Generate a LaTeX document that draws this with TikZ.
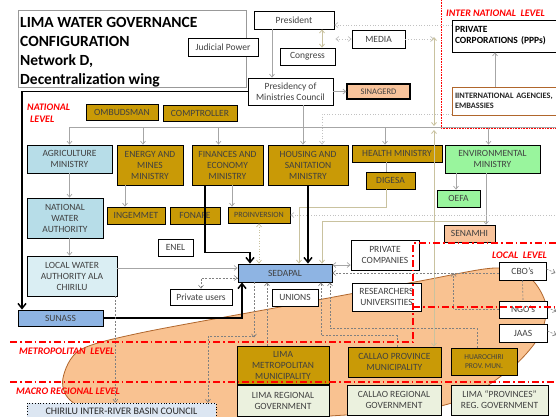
\documentclass[tikz,border=0pt]{standalone}
\usepackage{fontspec}
\setmainfont{Carlito}
\usetikzlibrary{arrows.meta,positioning,calc}
\definecolor{ink}{HTML}{404040}
\definecolor{gold}{HTML}{C99A06}
\definecolor{sky}{HTML}{B7DDE8}
\definecolor{pale}{HTML}{DAEEF3}
\definecolor{steel}{HTML}{8EB4E3}
\definecolor{mint}{HTML}{99F59D}
\definecolor{peach}{HTML}{F8C39B}
\definecolor{cream}{HTML}{EBF1DE}
\definecolor{chfill}{HTML}{DCE6F2}
\definecolor{blob}{HTML}{F9C291}
\definecolor{rust}{HTML}{B0662C}
\definecolor{khaki}{HTML}{C9C29F}
\definecolor{lvlred}{HTML}{FF0000}
\colorlet{lgray}{black!35}

\begin{document}
\begin{tikzpicture}[x=1pt,y=-1pt,>={Straight Barb[length=3pt,width=5pt]},
  sz/.style 2 args={minimum width=#1pt,minimum height=#2pt},
  bx/.style={draw=black,line width=0.8pt,fill=white,align=center,inner sep=1pt,
             text=ink,font=\fontsize{9.5}{11}\selectfont},
  gd/.style={bx,fill=gold},
  lvl/.style={text=lvlred,font=\bfseries\itshape\fontsize{10}{12}\selectfont,align=left,inner sep=0},
  lk/.style={draw=lgray,line width=0.7pt},
  bg/.style={draw=khaki,line width=0.8pt},
  dt/.style={draw=lgray!70,line width=0.7pt,dotted},
  dk/.style={draw=black!50,line width=0.6pt,dash pattern=on 2pt off 1.5pt},
  tk/.style={line width=1.5pt,-{Straight Barb[length=5pt,width=8pt]}},
  redline/.style={draw=lvlred,line width=1.3pt,dash pattern=on 7pt off 3pt on 1.5pt off 3pt}]
\useasboundingbox (0,0) rectangle (556,416);
\clip (0,0) rectangle (556,416);

\filldraw[fill=blob,draw=rust,line width=0.8pt] plot[smooth cycle] coordinates {(63,378) (80,350) (140,333)
  (280,307) (420,281) (495,268) (530,278) (546,305) (540,335) (515,365) (470,396) (420,410)
  (330,416) (220,424) (110,420) (70,400)};

\node[draw=black!40,line width=0.6pt,fill=white,sz={228}{77}] (titlebox) at (132,48.5) {};
\node[anchor=north west,align=left,inner sep=0,font=\bfseries\fontsize{15.5}{19}\selectfont] (title) at (20,17)
  {LIMA WATER GOVERNANCE\\CONFIGURATION\\Network D,\\Decentralization wing};

\coordinate (busL) at (70,127);
\coordinate (busR) at (560,127);
\coordinate (vtop) at (434,37);
\coordinate (vmid) at (434,126);
\coordinate (vlow) at (434,130);
\coordinate (digbend) at (299,207);
\coordinate (envbend) at (486,221);
\coordinate (chbend) at (254,336);

\node[bx,sz={70}{18}] (judicial) at (223,47) {Judicial Power};
\node[bx,sz={80}{18}] (president) at (294,20) {President};
\node[bx,sz={55}{17}] (congress) at (307.5,56.5) {Congress};
\node[bx,sz={53}{18}] (media) at (378.5,39) {MEDIA};
\node[bx,sz={85}{27}] (presidency) at (290.5,91.5) {Presidency of\\Ministries Council};
\node[bx,fill=peach,line width=1.2pt,sz={63}{15},font=\fontsize{8.5}{9}\selectfont] (sinagerd) at (378.5,91.5) {SINAGERD};
\node[bx,sz={108}{32},text width=102pt,align=left,text=black,
  font=\bfseries\fontsize{9.5}{11}\selectfont] (privcorp) at (506,36) {PRIVATE\\CORPORATIONS (PPPs)};
\node[bx,draw=rust,sz={108}{28},text width=102pt,align=left,text=black!85,
  font=\bfseries\fontsize{8.3}{10}\selectfont] (intagency) at (506,101) {IINTERNATIONAL AGENCIES,\\EMBASSIES};

\draw[dt,->] ([yshift=11pt]privcorp.west) -- ([yshift=-5pt]president.east);
\draw[lk,->] ([xshift=-22pt]president.south) -- ([xshift=-22pt]president.south |- presidency.north);
\draw[bg,<->] ([xshift=28pt]president.south) -- ([xshift=28pt]president.south |- congress.north);
\draw[dt,<->] (media.west) -- (media.west -| congress.east);
\draw[dt,->] (media.east) -- (media.east -| vtop);
\draw[bg,<->] (vtop) -- (vmid);
\draw[lk,->] (presidency.east) -- (sinagerd.west);
\draw[lk,->] ([xshift=-11pt]intagency.north) -- ([xshift=-11pt]privcorp.south);

\node[gd,sz={72}{16}] (ombudsman) at (122,112) {OMBUDSMAN};
\node[gd,sz={74}{16}] (comptroller) at (200,113) {COMPTROLLER};
\node[bx,fill=sky,sz={85}{28}] (agri) at (69.5,159) {AGRICULTURE\\MINISTRY};
\node[gd,sz={66}{40}] (energy) at (150,165) {ENERGY AND\\MINES\\MINISTRY};
\node[gd,sz={71}{40}] (finance) at (227.5,165) {FINANCES AND\\ECONOMY\\MINISTRY};
\node[gd,sz={80}{40}] (housing) at (308,165) {HOUSING AND\\SANITATION\\MINISTRY};
\node[gd,sz={90}{17}] (health) at (397,153.5) {HEALTH MINISTRY};
\node[gd,sz={49}{17}] (digesa) at (390.5,180.5) {DIGESA};
\node[bx,fill=mint,sz={95}{28}] (envir) at (492.5,159) {ENVIRONMENTAL\\MINISTRY};
\node[bx,fill=mint,sz={43}{17}] (oefa) at (458.5,198.5) {OEFA};
\node[bx,fill=peach,sz={51}{17}] (senamhi) at (469.5,233.5) {SENAMHI};
\node[bx,fill=sky,sz={76}{40}] (nwa) at (65,218) {NATIONAL\\WATER\\AUTHORITY};
\node[gd,sz={58}{17}] (ingemmet) at (136,215.5) {INGEMMET};
\node[gd,sz={50}{17}] (fonafe) at (195,215.5) {FONAFE};
\node[gd,sz={62}{16},font=\fontsize{8}{9}\selectfont] (proinv) at (259,215) {PROINVERSION};
\node[bx,sz={35}{17}] (enel) at (175.5,247.5) {ENEL};
\node[bx,fill=pale,sz={90}{40}] (lwa) at (72,276) {LOCAL WATER\\AUTHORITY ALA\\CHIRILU};
\node[bx,fill=steel,sz={85}{16}] (sunass) at (60.5,318) {SUNASS};
\node[bx,fill=steel,sz={94}{18}] (sedapal) at (285,273) {SEDAPAL};
\node[bx,sz={62}{16}] (privusers) at (201,297) {Private users};
\node[bx,sz={46}{17}] (unions) at (295,297.5) {UNIONS};
\node[bx,sz={68}{30}] (privcomp) at (385,255) {PRIVATE\\COMPANIES};
\node[bx,sz={69}{28}] (research) at (386.5,297) {RESEARCHERS\\UNIVERSITIES};
\node[bx,sz={47}{18}] (cbo) at (522.5,271) {CBO’s};
\node[bx,sz={48}{17}] (ngo) at (523,309.5) {NGO’s};
\node[bx,sz={48}{18}] (jaas) at (523,333) {JAAS};
\node[gd,sz={92}{38}] (limamet) at (283,365) {LIMA\\METROPOLITAN\\MUNICIPALITY};
\node[gd,sz={93}{30}] (callaoprov) at (394.5,362) {CALLAO PROVINCE\\MUNICIPALITY};
\node[gd,sz={66}{27},font=\fontsize{7.5}{9.5}\selectfont] (huaro) at (484,361.5) {HUAROCHIRI\\PROV. MUN.};
\node[bx,fill=cream,sz={92}{31}] (limareg) at (283,400.5) {LIMA REGIONAL\\GOVERNMENT};
\node[bx,fill=cream,sz={94}{30}] (callaoreg) at (394,400) {CALLAO REGIONAL\\GOVERNMENT};
\node[bx,fill=cream,sz={97}{30}] (limaprov) at (499.5,400) {LIMA “PROVINCES”\\REG. GOVERNMENT};
\node[bx,fill=chfill,dotted,sz={189}{17},text=black!85,font=\fontsize{10}{12}\selectfont] (chirilu)
  at (121.5,411.5) {CHIRILU INTER-RIVER BASIN COUNCIL};

\draw[tk] (presidency.west) -| ([xshift=-38.5pt]sunass.north);
\draw[lk] (busL) -- (busR);
\draw[lk,->] ([xshift=-5pt]housing.north |- presidency.south) -- ([xshift=-5pt]housing.north);
\foreach \m/\d in {agri/0,energy/-7,finance/-9,health/-12,envir/-4}
  \draw[lk,->] ([xshift=\d pt]\m.north |- busL) -- ([xshift=\d pt]\m.north);
\draw[dt,->] ([yshift=-13pt]intagency.west) -| ([xshift=14pt]housing.north);
\draw[bg,<->] (vlow) -- (vlow |- callaoprov.north);
\draw[lk,->] (agri.south) -- (agri.south |- nwa.north);
\draw[lk,->] ([xshift=4.5pt]nwa.south) -- ([xshift=4.5pt]nwa.south |- lwa.north);
\draw[lk,->] ([xshift=-25pt]energy.south) -- ([xshift=-25pt]energy.south |- ingemmet.north);
\draw[lk,->] ([xshift=4.5pt]finance.south) -- ([xshift=4.5pt]finance.south |- proinv.north);
\draw[lk] ([xshift=-11pt]health.south) -- ([xshift=-11pt]health.south |- digesa.north);
\draw[lk,->] ([xshift=-36.5pt]envir.south) -- ([xshift=-36.5pt]envir.south |- oefa.north);
\draw[lk,->] ([xshift=-6.5pt]envir.south) -- ([xshift=-6.5pt]envir.south |- senamhi.north);
\draw[bg,->] ([xshift=-4.5pt]digesa.south) |- (digbend) -- (digbend |- sedapal.north);
\draw[bg,->] (envbend) -| ([xshift=37pt]sedapal.north);
\draw[dt,->] (proinv.east -| busR) -- (proinv.east);
\draw[dt,draw=khaki,<->] (proinv.south) -- (proinv.south |- sedapal.north);
\draw[tk] ([xshift=-22.5pt]finance.south) -- ++(0,67) -| ([xshift=-35pt]sedapal.north);
\draw[tk] (housing.south) -- (housing.south |- sedapal.north);
\draw[tk] (sunass.east) -| ([xshift=-43pt]sedapal.south);
\draw[lk,->] ([yshift=8pt]lwa.east) -- ([yshift=8pt]lwa.east -| sedapal.west);
\draw[dk,->] ([xshift=-2pt]lwa.south east) -- ([xshift=-2pt]lwa.south east |- chirilu.north);
\draw[dk,<->] (privusers.north) |- ([yshift=-5pt]sedapal.west);
\draw[lk,<->] ([yshift=8pt]sedapal.east) -- ([yshift=8pt]sedapal.east -| privcomp.west);
\draw[dk,->] ([yshift=-2pt]cbo.west) -- ([yshift=-2pt]cbo.west -| sedapal.east);
\draw[dk,->] (ngo.west) -| ([xshift=-45pt,yshift=-2pt]cbo.west);
\draw[dk] (cbo.south) -- (ngo.north);
\foreach \m in {cbo,ngo,jaas}
  \draw[dk,->] ([yshift=2pt]\m.east) -- ++(9,4);
\draw[dk,->] ([xshift=-31pt]sedapal.south) -- ++(0,55);
\draw[dk,->] (chbend) -| ([xshift=86.5pt]chirilu.north);
\draw[dk,->] ([xshift=-16pt]limamet.north) -- ([xshift=-16pt]limamet.north |- sedapal.south);
\draw[dk,->] ([xshift=2.5pt]callaoprov.north) -- ++(0,-11) -| ([xshift=36pt]sedapal.south);
\draw[dk,->] ([xshift=-7pt]huaro.north) -- ++(0,-19) -| ([xshift=45pt]sedapal.south);

\draw[redline] (10,342) -- (413,342) -- (413,243) -- (560,243);
\draw[redline] (413,307) -- (560,307);
\draw[redline] (10,382) -- (560,382);
\draw[lvlred,line width=0.6pt,densely dotted] (441,0) -- (441,128) -- (560,128);

\node[lvl,anchor=north west] (natlvl) at (27,104) {NATIONAL\\\hspace{3pt}LEVEL};
\node[lvl,anchor=west] (intlvl) at (446,13) {INTER NATIONAL\ \ LEVEL};
\node[lvl,anchor=west] (metlvl) at (19,351) {METROPOLITAN\ \ LEVEL};
\node[lvl,anchor=west] (maclvl) at (16,391) {MACRO REGIONAL LEVEL};
\node[lvl,anchor=west] (loclvl) at (492,255) {LOCAL\ \ LEVEL};
\end{tikzpicture}
\end{document}
